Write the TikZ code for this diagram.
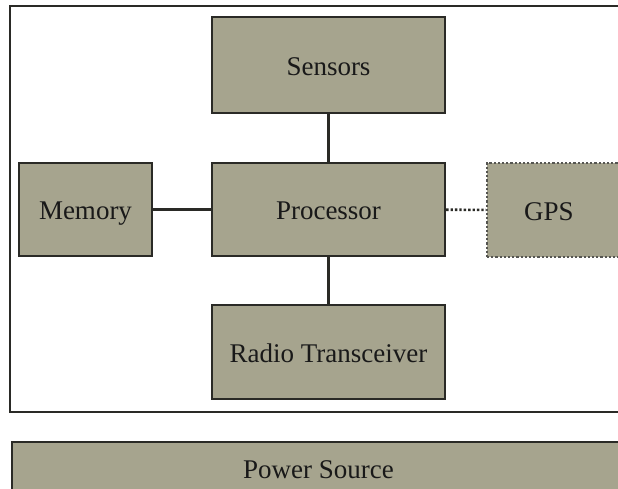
\documentclass[tikz,border=0pt]{standalone}
\usepackage{fontspec}
\setmainfont{Liberation Serif}
\definecolor{boxfill}{HTML}{A6A48E}
\definecolor{boxline}{HTML}{2A2A26}

\begin{document}
\begin{tikzpicture}[x=1pt, y=-1pt, thick,
    block/.style={draw=boxline, fill=boxfill, line width=2.2pt, inner sep=0pt, text=black!90,
        text height=24pt, text depth=4pt, font=\fontsize{27}{30}\selectfont},
    dotblock/.style={block, dotted, draw=boxline!80},
    link/.style={draw=boxline, line width=2.4pt},
    dotlink/.style={link, dotted, line width=2.6pt}]

    \useasboundingbox (0,0) rectangle (618,488);
    \clip (0,0) rectangle (618,488);

    % board frame
    \draw[boxline, line width=2.4pt, fill=white] (10,6) rectangle (640,412);

    \node[block, minimum width=233pt, minimum height=96pt] (sens) at (328.5,65) {Sensors};
    \node[block, minimum width=133pt, minimum height=93pt] (mem) at (85.5,209.5) {Memory};
    \node[block, minimum width=233pt, minimum height=93pt] (proc) at (328.5,209.5) {Processor};
    \node[dotblock, minimum width=138pt, minimum height=94pt] (gps) at (556,210) {\hspace*{-14pt}GPS};
    \node[block, minimum width=233pt, minimum height=94pt] (radio) at (328.5,352) {Radio Transceiver};
    \node[block, minimum width=620pt, minimum height=52pt] (power) at (322,468) {\hspace*{-7pt}Power Source};

    \path
        (sens) edge[link] (proc)
        (mem) edge[link] (proc)
        (proc) edge[link] (radio)
        (proc) edge[dotlink] (gps)
        ;
\end{tikzpicture}
\end{document}
